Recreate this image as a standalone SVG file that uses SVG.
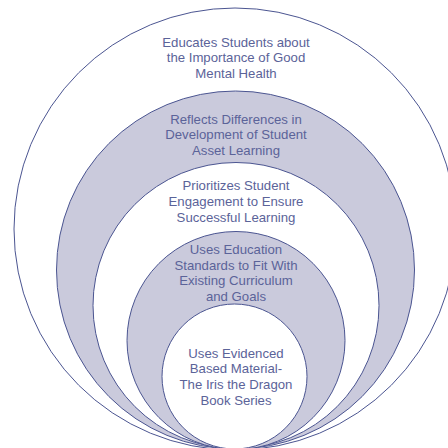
<svg xmlns="http://www.w3.org/2000/svg" width="448" height="448" viewBox="0 0 448 448">
<style>
.ring{stroke:#4b5591;stroke-width:1}
.shade{fill:#cacadc}
.white{fill:#ffffff}
text{font-family:"Liberation Sans",Arial,sans-serif;font-size:13.2px;fill:#5b6399;text-anchor:middle}
</style>
<rect width="448" height="448" fill="#ffffff"/>
<g id="node1">
<circle class="ring white" cx="235" cy="229" r="221"/>
<text x="236" y="46.5">Educates Students about</text>
<text x="236" y="62">the Importance of Good</text>
<text x="236" y="77.5">Mental Health</text>
</g>
<g id="node2">
<circle class="ring shade" cx="235.5" cy="270" r="179"/>
<text x="236" y="123.5">Reflects Differences in</text>
<text x="236" y="139">Development of Student</text>
<text x="236" y="154.5">Asset Learning</text>
</g>
<g id="node3">
<circle class="ring white" cx="236" cy="305.5" r="143"/>
<text x="236" y="190">Prioritizes Student</text>
<text x="236" y="206">Engagement to Ensure</text>
<text x="236" y="221.5">Successful Learning</text>
</g>
<g id="node4">
<circle class="ring shade" cx="236" cy="340.5" r="109"/>
<text x="236" y="253.5">Uses Education</text>
<text x="236" y="269.5">Standards to Fit With</text>
<text x="236" y="285">Existing Curriculum</text>
<text x="236" y="300.5">and Goals</text>
</g>
<g id="node5">
<circle class="ring white" cx="234.5" cy="376.5" r="72.5"/>
<text x="236" y="357.5">Uses Evidenced</text>
<text x="236" y="373">Based Material-</text>
<text x="236" y="389">The Iris the Dragon</text>
<text x="236" y="404.5">Book Series</text>
</g>
<g id="connectors"></g>
</svg>
